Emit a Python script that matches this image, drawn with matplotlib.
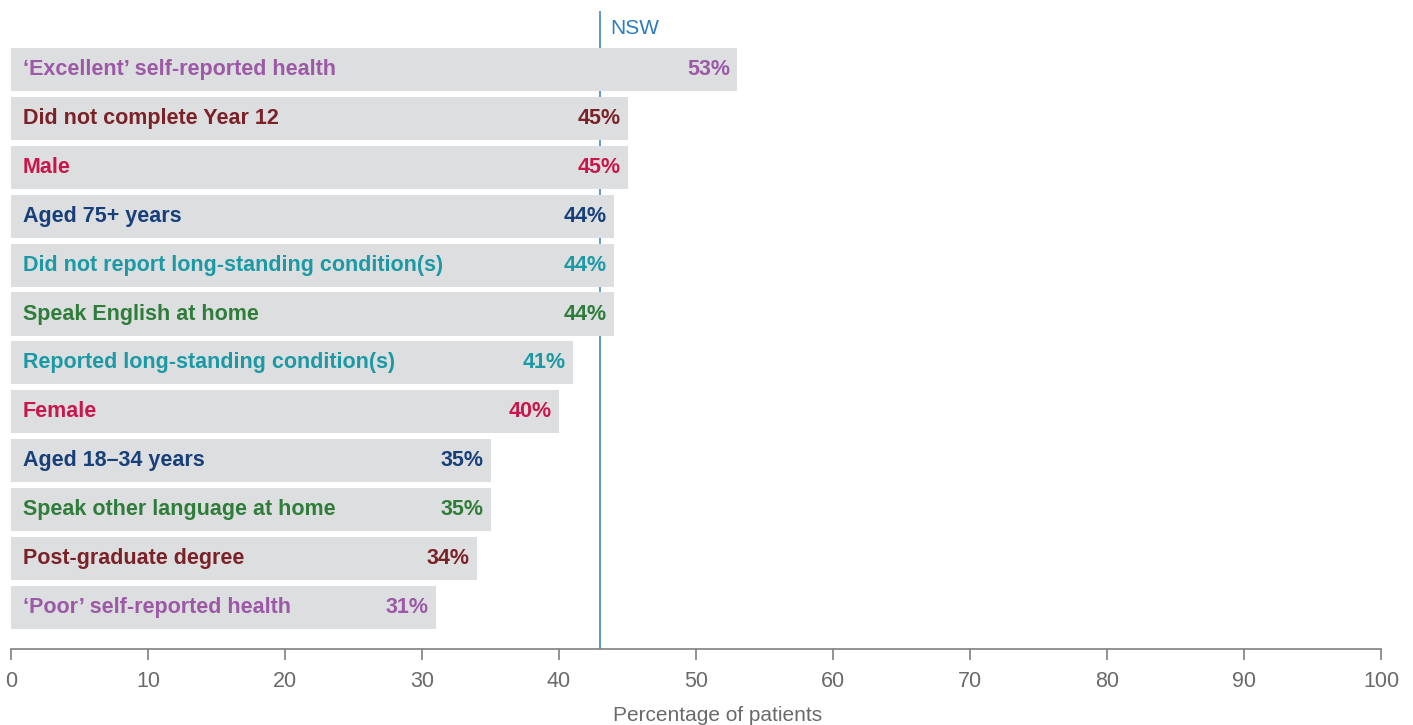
import matplotlib
matplotlib.use("Agg")
import matplotlib.pyplot as plt

categories = [
    "\u2018Excellent\u2019 self-reported health",
    "Did not complete Year 12",
    "Male",
    "Aged 75+ years",
    "Did not report long-standing condition(s)",
    "Speak English at home",
    "Reported long-standing condition(s)",
    "Female",
    "Aged 18\u201334 years",
    "Speak other language at home",
    "Post-graduate degree",
    "\u2018Poor\u2019 self-reported health",
]
values = [53, 45, 45, 44, 44, 44, 41, 40, 35, 35, 34, 31]
label_colors = ["#9b59a6", "#7a2228", "#c8174b", "#173f7a", "#1b9aa5", "#2f7d3a",
                "#1b9aa5", "#c8174b", "#173f7a", "#2f7d3a", "#7a2228", "#9b59a6"]
nsw_value = 43
xticks = [0, 10, 20, 30, 40, 50, 60, 70, 80, 90, 100]

plt.rcParams['font.family'] = ['Liberation Sans', 'DejaVu Sans']

W, H = 1413, 725
fig = plt.figure(figsize=(W / 100, H / 100), dpi=100)
left, right, bottom, top = 11, 1381, 649, 11
ax = fig.add_axes([left / W, (H - bottom) / H, (right - left) / W, (bottom - top) / H])

y = list(range(len(categories)))
ax.barh(y, values, height=0.88, color="#dddee0", zorder=1)
ax.set_xlim(0, 100)
ax.set_ylim(11.85, -1.196)

ax.axvline(nsw_value, color="#2b7cc1", lw=1.1, zorder=0.5)
ax.text(nsw_value + 0.75, -0.83, "NSW", color="#2b7cc1", fontsize=15, va="center", ha="left")

for yi, cat, v, c in zip(y, categories, values, label_colors):
    ax.text(0.85, yi, cat, color=c, fontsize=15.5, fontweight="bold", va="center", ha="left", zorder=3)
    ax.text(v - 0.5, yi, f"{v}%", color=c, fontsize=15.5, fontweight="bold", va="center", ha="right", zorder=3)

for s in ["top", "right", "left"]:
    ax.spines[s].set_visible(False)
ax.spines["bottom"].set_color("#808080")
ax.spines["bottom"].set_linewidth(1.2)
ax.set_yticks([])
ax.set_xticks(xticks)
ax.tick_params(axis="x", colors="#808080", length=8, width=1.2, labelsize=15.5, pad=8,
               labelcolor="#6a6a6a")
ax.set_xlabel("Percentage of patients", fontsize=15, color="#6a6a6a")
ax.xaxis.set_label_coords((718 - left) / (right - left), -0.104)
ax.xaxis.label.set_va("center")

fig.savefig("out.png", dpi=100)
